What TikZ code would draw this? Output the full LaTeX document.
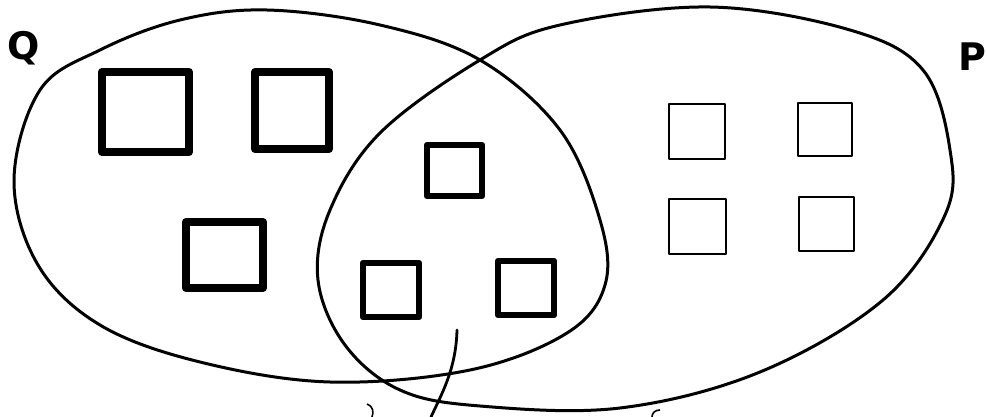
\documentclass[tikz,border=0pt]{standalone}
\usepackage{fontspec}
\setsansfont{DejaVu Sans}
\tikzset{
  setline/.style={line width=3pt, line join=round},
  bigsq/.style={line width=8pt, line join=round},
  midsq/.style={line width=6.5pt, line join=round},
  thinsq/.style={line width=2.7pt, line join=round},
  setlabel/.style={font=\sffamily\bfseries\fontsize{38}{38}\selectfont, inner sep=0pt}
}
\begin{document}
\begin{tikzpicture}[x=1pt, y=-1pt]
  \useasboundingbox (0,0) rectangle (987,417);
  % set Q
  \draw[setline] plot[smooth cycle, tension=0.6] coordinates {
    (14,180) (40,90) (100,50) (180,20) (267,10) (380,25) (480,60) (560,130)
    (600,220) (605,285) (567,333) (470,370) (330,382) (200,362) (100,325) (38,265)};
  % set P
  \draw[setline] plot[smooth cycle, tension=0.6] coordinates {
    (480,60) (560,25) (710,7) (850,30) (923,70) (950,150) (945,215) (883,300)
    (760,372) (620,408) (480,406) (400,390) (345,345) (318,280) (330,210) (380,133)};
  \node[setlabel] (labelq) at (24,48) {Q};
  \node[setlabel] (labelp) at (972,57) {P};
  % only in Q
  \draw[bigsq] (102,72) rectangle (189,152);
  \draw[bigsq] (255,72) rectangle (329,149);
  \draw[bigsq] (186,222) rectangle (263,288);
  % in both
  \draw[midsq] (427,145) rectangle (482,196);
  \draw[midsq] (363,263) rectangle (419,317);
  \draw[midsq] (498,261) rectangle (554,315);
  % only in P
  \draw[thinsq] (669,104) rectangle (725,159);
  \draw[thinsq] (798,103) rectangle (852,156);
  \draw[thinsq] (669,199) rectangle (726,254);
  \draw[thinsq] (799,197) rectangle (854,251);
  % pointer out of the common part
  \coordinate (tipin) at (457,330);
  \coordinate (tipout) at (431,417);
  \draw[line width=2.8pt, line cap=round] (tipin) .. controls (456,370) and (441,395) .. (tipout);
  % cut off marks at the bottom edge
  \draw[line width=1.6pt] (367,404) .. controls (373,406) and (374,412) .. (372,417);
  \draw[line width=1.6pt] (660,410) .. controls (655,410) and (652,413) .. (652,417);
\end{tikzpicture}
\end{document}
